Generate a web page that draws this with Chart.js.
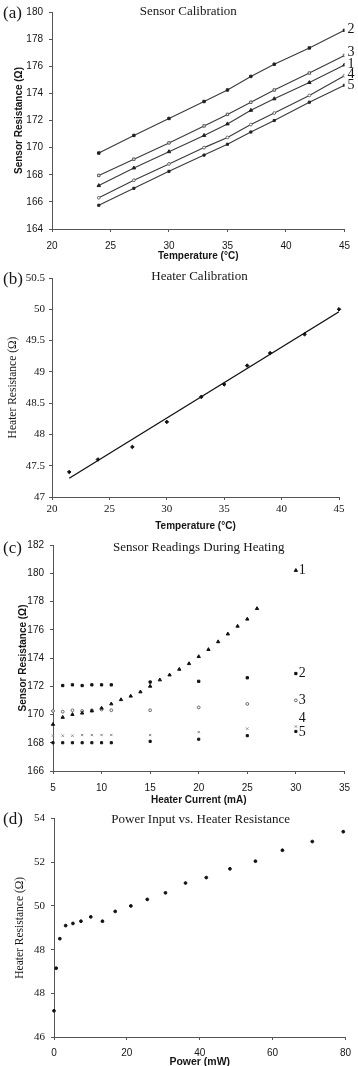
<!DOCTYPE html>
<html>
<head>
<meta charset="utf-8">
<title>Sensor and heater calibration</title>
<script src="https://cdn.jsdelivr.net/npm/chart.js@4.4.1/dist/chart.umd.min.js"></script>
<style>
  html, body { margin: 0; padding: 0; background: #fff; }
  body { width: 358px; height: 1066px; position: relative; overflow: hidden; }
  .panel { position: absolute; left: 0; width: 358px; }
  #panelA { top: 0; height: 262px; }
  #panelB { top: 262px; height: 270px; }
  #panelC { top: 532px; height: 274px; }
  #panelD { top: 806px; height: 260px; }
</style>
</head>
<body>
<div class="panel" id="panelA"><canvas id="chartA"></canvas></div>
<div class="panel" id="panelB"><canvas id="chartB"></canvas></div>
<div class="panel" id="panelC"><canvas id="chartC"></canvas></div>
<div class="panel" id="panelD"><canvas id="chartD"></canvas></div>
<script>
// (a) Sensor calibration
const tempA = [24, 27, 30, 33, 35, 37, 39, 42, 45];
const sensor1A = [167.2, 168.5, 169.7, 170.9, 171.75, 172.75, 173.6, 174.8, 176.1];
const sensor2A = [169.6, 170.9, 172.15, 173.4, 174.25, 175.25, 176.15, 177.35, 178.65];
const sensor3A = [167.95, 169.15, 170.35, 171.6, 172.45, 173.35, 174.25, 175.5, 176.8];
const sensor4A = [166.3, 167.6, 168.8, 170.0, 170.75, 171.7, 172.55, 173.85, 175.3];
const sensor5A = [165.75, 167.0, 168.25, 169.45, 170.25, 171.15, 172.0, 173.35, 174.6];

// (b) Heater calibration
const tempB = [21.5, 24, 27, 30, 33, 35, 37, 39, 42, 45];
const heaterB = [47.4, 47.6, 47.8, 48.2, 48.6, 48.8, 49.1, 49.3, 49.6, 50.0];
const fitTempB = [21.5, 45];
const fitHeaterB = [47.3, 49.96];

// (c) Sensor readings during heating
const current1C = [5, 6, 7, 8, 9, 10, 11, 12, 13, 14, 15, 16, 17, 18, 19, 20, 21, 22, 23, 24, 25, 26, 30];
const sensor1C = [169.3, 169.8, 170.0, 170.1, 170.25, 170.45, 170.75, 171.05, 171.3, 171.6, 172.0, 172.45, 172.8, 173.2, 173.6, 174.1, 174.6, 175.15, 175.7, 176.25, 176.75, 177.5, 180.2];
const current2C = [6, 7, 8, 9, 10, 11, 15, 20, 25, 30];
const sensor2C = [172.05, 172.1, 172.05, 172.1, 172.1, 172.1, 172.3, 172.35, 172.6, 172.9];
const currentC = [5, 6, 7, 8, 9, 10, 11, 15, 20, 25, 30];
const sensor3C = [170.25, 170.2, 170.3, 170.25, 170.3, 170.35, 170.3, 170.3, 170.5, 170.75, 171.0];
const sensor4C = [168.5, 168.5, 168.5, 168.55, 168.55, 168.55, 168.55, 168.55, 168.75, 169.0, 169.15];
const sensor5C = [168.0, 168.0, 168.0, 168.0, 168.0, 168.0, 168.0, 168.1, 168.25, 168.5, 168.8];

// (d) Power input vs heater resistance
const powerD = [0.0, 0.6, 1.6, 3.2, 5.2, 7.4, 10.1, 13.3, 16.8, 21.1, 25.6, 30.6, 36.1, 41.8, 48.3, 55.3, 62.7, 70.9, 79.4];
const heaterD = [45.2, 47.15, 48.5, 49.1, 49.2, 49.3, 49.5, 49.3, 49.75, 50.0, 50.3, 50.6, 51.05, 51.3, 51.7, 52.05, 52.55, 52.95, 53.4];
const yTickLabelsD = ['46', '48', '48', '50', '52', '54'];

// Styles
const sans = '"Liberation Sans", Arial, sans-serif';
const serif = '"Liberation Serif", "Times New Roman", serif';
const ink = '#151515';
const axisColor = '#555';
const lineColor = '#3a3a3a';

const pts = (xs, ys) => xs.map((x, i) => ({ x, y: ys[i] }));

// Panel letter, title and line end labels
const panelText = {
  id: 'panelText',
  afterDraw(chart, args, opts) {
    const { ctx, chartArea } = chart;
    ctx.save();
    ctx.fillStyle = ink;
    ctx.textBaseline = 'middle';
    ctx.textAlign = 'left';
    ctx.font = `17px ${serif}`;
    ctx.fillText(opts.letter, 3, chartArea.top + opts.letterDy);
    ctx.font = `13px ${serif}`;
    ctx.textAlign = 'center';
    ctx.fillText(opts.title, (chartArea.left + chartArea.right) / 2 + opts.titleDx, chartArea.top + opts.titleDy);
    ctx.textAlign = 'left';
    ctx.font = `14px ${serif}`;
    chart.data.datasets.forEach((ds, i) => {
      if (!ds.endLabel) return;
      const els = chart.getDatasetMeta(i).data;
      const p = els[els.length - 1];
      ctx.fillText(ds.endLabel, p.x + 3, p.y + (ds.endLabelDy || 0));
    });
    ctx.restore();
  }
};

function makeChart(id, datasets, cfg) {
  const yTicks = { stepSize: cfg.y.step, padding: cfg.y.pad, color: ink, font: cfg.y.font, autoSkip: false };
  if (cfg.y.labels) yTicks.callback = (v, i) => cfg.y.labels[i];
  else yTicks.callback = (v) => String(Math.round(v * 10) / 10);
  return new Chart(document.getElementById(id), {
    type: 'scatter',
    data: { datasets },
    options: {
      responsive: true,
      maintainAspectRatio: false,
      animation: false,
      layout: { padding: { top: cfg.top, right: cfg.right, left: 0, bottom: 0 } },
      plugins: { legend: { display: false }, tooltip: { enabled: false }, panelText: cfg.text },
      scales: {
        x: {
          type: 'linear', min: cfg.x.min, max: cfg.x.max,
          afterFit: (s) => { s.height = cfg.x.size; },
          grid: { drawOnChartArea: false, tickLength: 3, color: axisColor },
          border: { color: axisColor },
          ticks: { stepSize: cfg.x.step, padding: cfg.x.pad, color: ink, font: cfg.x.font, maxRotation: 0, autoSkip: false },
          title: { display: true, text: cfg.x.title, color: ink, font: cfg.x.titleFont, padding: { top: 0, bottom: cfg.x.titlePad } }
        },
        y: {
          type: 'linear', min: cfg.y.min, max: cfg.y.max,
          afterFit: (s) => { s.width = cfg.y.size; },
          grid: { drawOnChartArea: false, tickLength: 3, color: axisColor },
          border: { color: axisColor },
          ticks: yTicks,
          title: { display: true, text: cfg.y.title, color: ink, font: cfg.y.titleFont, padding: { top: cfg.y.titlePad, bottom: 0 } }
        }
      }
    },
    plugins: [panelText]
  });
}

const lineSet = (label, xs, ys, style, extra) => Object.assign({
  label, data: pts(xs, ys), showLine: true, borderColor: lineColor, borderWidth: 1.1,
  pointStyle: style, pointRadius: 1.7, pointBorderWidth: 1, pointBackgroundColor: '#222', pointBorderColor: '#222'
}, extra);

// points sitting on an axis are not cut in half
const dotSet = (label, xs, ys, style, extra) => Object.assign({
  label, data: pts(xs, ys), showLine: false, clip: 4,
  pointStyle: style, pointRadius: 1.6, pointBorderWidth: 1, pointBackgroundColor: '#111', pointBorderColor: '#111'
}, extra);

// (a)
makeChart('chartA', [
  lineSet('2', tempA, sensor2A, 'rect', { endLabel: '2', endLabelDy: -1 }),
  lineSet('3', tempA, sensor3A, 'rect', { endLabel: '3', endLabelDy: -3, pointBackgroundColor: '#fff', pointBorderColor: '#555' }),
  lineSet('1', tempA, sensor1A, 'triangle', { endLabel: '1', endLabelDy: -1, pointRadius: 2 }),
  lineSet('4', tempA, sensor4A, 'circle', { endLabel: '4', endLabelDy: -1, pointBackgroundColor: '#fff', pointBorderColor: '#666', pointRadius: 1.4 }),
  lineSet('5', tempA, sensor5A, 'rect', { endLabel: '5', endLabelDy: 0, pointRadius: 1.5 })
], {
  top: 7, right: 11,
  text: { letter: '(a)', letterDy: 2, title: 'Sensor Calibration', titleDx: -10, titleDy: 0 },
  x: { min: 20, max: 45, step: 5, pad: 8, size: 33, font: { family: sans, size: 10 },
       title: 'Temperature (°C)', titleFont: { family: sans, size: 10, weight: 'bold' }, titlePad: 0 },
  y: { min: 164, max: 180, step: 2, pad: 6, size: 52, font: { family: sans, size: 10 },
       title: 'Sensor Resistance (Ω)', titleFont: { family: sans, size: 10, weight: 'bold' }, titlePad: 13 }
});

// (b)
makeChart('chartB', [
  dotSet('Measured', tempB, heaterB, 'rectRot', { pointRadius: 1.8 }),
  { label: 'Fit', data: pts(fitTempB, fitHeaterB), showLine: true, borderColor: '#111', borderWidth: 1.3, pointRadius: 0 }
], {
  top: 16, right: 19,
  text: { letter: '(b)', letterDy: 2, title: 'Heater Calibration', titleDx: 4, titleDy: -1 },
  x: { min: 20, max: 45, step: 5, pad: 3, size: 35, font: { family: serif, size: 11 },
       title: 'Temperature (°C)', titleFont: { family: sans, size: 10, weight: 'bold' }, titlePad: 0 },
  y: { min: 47, max: 50.5, step: 0.5, pad: 4, size: 52, font: { family: serif, size: 11 },
       title: 'Heater Resistance (Ω)', titleFont: { family: serif, size: 11.5 }, titlePad: 6 }
});

// (c)
makeChart('chartC', [
  dotSet('1', current1C, sensor1C, 'triangle', { endLabel: '1', endLabelDy: 0, pointRadius: 1.9 }),
  dotSet('2', current2C, sensor2C, 'rect', { endLabel: '2', endLabelDy: 0 }),
  dotSet('3', currentC, sensor3C, 'circle', { endLabel: '3', endLabelDy: 0, pointBackgroundColor: '#fff', pointBorderColor: '#666', pointRadius: 1.4 }),
  dotSet('4', currentC, sensor4C, 'crossRot', { endLabel: '4', endLabelDy: -8, pointBorderColor: '#888', pointRadius: 1.6 }),
  dotSet('5', currentC, sensor5C, 'rect', { endLabel: '5', endLabelDy: 1, pointRadius: 1.5 })
], {
  top: 13, right: 10,
  text: { letter: '(c)', letterDy: 4, title: 'Sensor Readings During Heating', titleDx: 0, titleDy: 3 },
  x: { min: 5, max: 35, step: 5, pad: 8, size: 35, font: { family: sans, size: 10 },
       title: 'Heater Current (mA)', titleFont: { family: sans, size: 10, weight: 'bold' }, titlePad: 0 },
  y: { min: 166, max: 182, step: 2, pad: 6, size: 53, font: { family: sans, size: 10 },
       title: 'Sensor Resistance (Ω)', titleFont: { family: sans, size: 10, weight: 'bold' }, titlePad: 17 }
});

// (d)
makeChart('chartD', [
  dotSet('Heater', powerD, heaterD, 'circle', { pointRadius: 1.4 })
], {
  top: 11, right: 11,
  text: { letter: '(d)', letterDy: 1, title: 'Power Input vs. Heater Resistance', titleDx: 1, titleDy: 1 },
  x: { min: 0, max: 80, step: 20, pad: 7, size: 29, font: { family: sans, size: 10 },
       title: 'Power (mW)', titleFont: { family: sans, size: 10.5, weight: 'bold' }, titlePad: -2 },
  y: { min: 44, max: 54, step: 2, pad: 6, size: 54, labels: yTickLabelsD, font: { family: serif, size: 11 },
       title: 'Heater Resistance (Ω)', titleFont: { family: serif, size: 11.5 }, titlePad: 13 }
});
</script>
</body>
</html>
